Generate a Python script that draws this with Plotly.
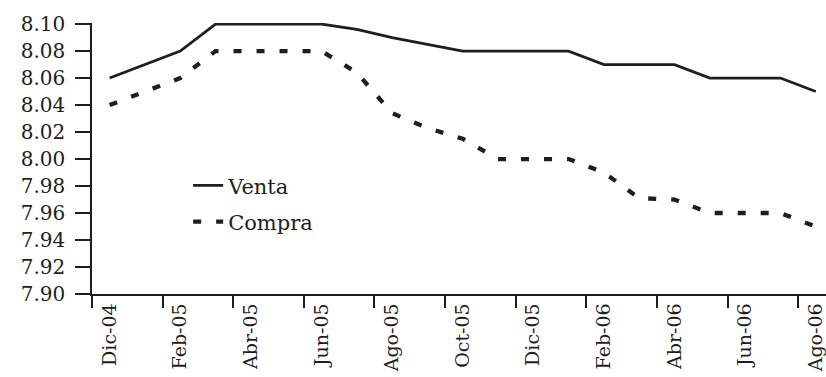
import plotly.graph_objects as go

months = ["Dic-04", "Ene-05", "Feb-05", "Mar-05", "Abr-05", "May-05", "Jun-05",
          "Jul-05", "Ago-05", "Sep-05", "Oct-05", "Nov-05", "Dic-05",
          "Ene-06", "Feb-06", "Mar-06", "Abr-06", "May-06", "Jun-06", "Jul-06", "Ago-06"]

venta = [8.06, 8.07, 8.08, 8.10, 8.10, 8.10, 8.10,
         8.096, 8.09, 8.085, 8.08, 8.08, 8.08,
         8.08, 8.07, 8.07, 8.07, 8.06, 8.06, 8.06, 8.05]

compra = [8.04, 8.05, 8.06, 8.08, 8.08, 8.08, 8.08,
          8.064, 8.034, 8.023, 8.015, 8.00, 8.00,
          8.00, 7.99, 7.971, 7.97, 7.96, 7.96, 7.96, 7.95]

tick_labels = months[::2]
y_ticks = [7.90, 7.92, 7.94, 7.96, 7.98, 8.00, 8.02, 8.04, 8.06, 8.08, 8.10]

ink = "#1e1e1e"
yfont = dict(family="DejaVu Serif", size=20, color=ink)
xfont = dict(family="DejaVu Serif", size=19, color=ink)

fig = go.Figure()
fig.add_trace(go.Scatter(x=months, y=venta, name="Venta", mode="lines",
                         line=dict(color=ink, width=2.8), legendgroup="a"))
fig.add_trace(go.Scatter(x=months, y=compra, name="Compra", mode="lines",
                         line=dict(color=ink, width=4.3, dash="8px,15px"), legendgroup="b"))

fig.update_layout(
    width=826, height=377,
    margin=dict(l=92, r=0, t=23, b=83),
    paper_bgcolor="white", plot_bgcolor="white",
    font=xfont,
    showlegend=True,
    legend=dict(x=0.131, y=0.475, xanchor="left", yanchor="top",
                bgcolor="rgba(0,0,0,0)", font=dict(family="DejaVu Serif", size=21, color=ink),
                tracegroupgap=6, traceorder="grouped"),
    xaxis=dict(type="category", categoryorder="array", categoryarray=months,
               range=[-0.5, 20.29], automargin=False,
               tickmode="array", tickvals=tick_labels, ticktext=tick_labels,
               tickson="boundaries", ticks="outside", ticklen=12, tickwidth=1.5,
               tickcolor=ink, tickangle=-90, ticklabeloverflow="allow",
               showline=True, linecolor=ink, linewidth=1.5,
               showgrid=False, zeroline=False, tickfont=xfont),
    yaxis=dict(range=[7.90, 8.1008], tickmode="array", tickvals=y_ticks,
               automargin=False,
               tickformat=".2f", ticks="outside", ticklen=15, tickwidth=1.5,
               tickcolor=ink, showline=True, linecolor=ink, linewidth=1.5,
               showgrid=False, zeroline=False, tickfont=yfont,
               ticklabelstandoff=6),
)

fig.write_html("out.html", config={"displayModeBar": False},
               post_script="document.body.style.margin='0';document.body.style.overflow='hidden';")
